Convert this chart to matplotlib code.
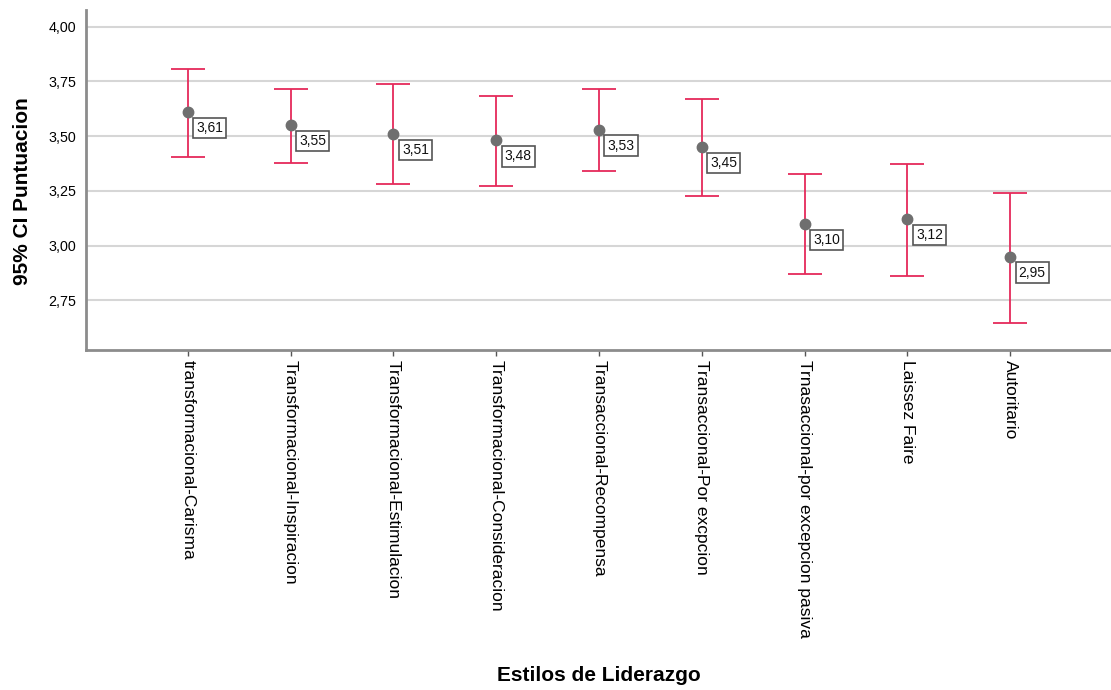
import matplotlib
matplotlib.use("Agg")
import matplotlib.pyplot as plt

categorias = [
    "transformacional-Carisma",
    "Transformacional-Inspiracion",
    "Transformacional-Estimulacion",
    "Transformacional-Consideracion",
    "Transaccional-Recompensa",
    "Transaccional-Por excpcion",
    "Trnasaccional-por excepcion pasiva",
    "Laissez Faire",
    "Autoritario",
]
medias = [3.61, 3.55, 3.51, 3.48, 3.53, 3.45, 3.10, 3.12, 2.95]
ic_inf = [3.406, 3.375, 3.281, 3.273, 3.339, 3.225, 2.869, 2.859, 2.648]
ic_sup = [3.807, 3.715, 3.738, 3.685, 3.715, 3.671, 3.325, 3.371, 3.241]
yticks = [2.75, 3.00, 3.25, 3.50, 3.75, 4.00]

plt.rcParams["font.family"] = ["Liberation Sans", "DejaVu Sans"]

fig = plt.figure(figsize=(11.11, 6.9), dpi=100)
ax = fig.add_axes([86 / 1111, 1 - 350 / 690, 1 - 86 / 1111, 340 / 690])

x = list(range(len(categorias)))
err_lo = [m - lo for m, lo in zip(medias, ic_inf)]
err_hi = [hi - m for m, hi in zip(medias, ic_sup)]

ax.errorbar(x, medias, yerr=[err_lo, err_hi], fmt="none", ecolor="#e52a5a",
            elinewidth=1.3, capsize=12, capthick=1.3, zorder=3)
ax.plot(x, medias, "o", color="#6f6f6f", markersize=7.5, zorder=4)

for xi, m in zip(x, medias):
    ax.annotate(f"{m:.2f}".replace(".", ","), (xi, m), xytext=(22, -16),
                textcoords="offset pixels", ha="center", va="center",
                fontsize=10, color="#111111", zorder=5,
                bbox=dict(boxstyle="square,pad=0.22", fc="white", ec="#555555", lw=1.2))

ax.set_xlim(-0.99, 8.98)
ax.set_ylim(2.523, 4.076)
ax.set_yticks(yticks)
ax.set_yticklabels([f"{v:.2f}".replace(".", ",") for v in yticks], fontsize=10.3)
ax.set_xticks(x)
ax.set_xticklabels(categorias, rotation=-90, fontsize=12.5, va="top", ha="center")
ax.tick_params(axis="y", length=0, pad=7)
ax.tick_params(axis="x", length=4, width=1, color="#555555", pad=3)

ax.grid(axis="y", color="#d6d6d6", linewidth=1.5, zorder=0)
ax.set_axisbelow(True)
for s in ["top", "right"]:
    ax.spines[s].set_visible(False)
for s in ["left", "bottom"]:
    ax.spines[s].set_color("#8c8c8c")
    ax.spines[s].set_linewidth(2)

ax.set_xlabel("Estilos de Liderazgo", fontsize=15, fontweight="bold", va="center")
ax.xaxis.set_label_coords(0.5, -0.956)
ax.set_ylabel("95% CI Puntuacion", fontsize=15, fontweight="bold", va="center")
ax.yaxis.set_label_coords(-0.062, 0.468)

fig.savefig("out.png", dpi=100)
